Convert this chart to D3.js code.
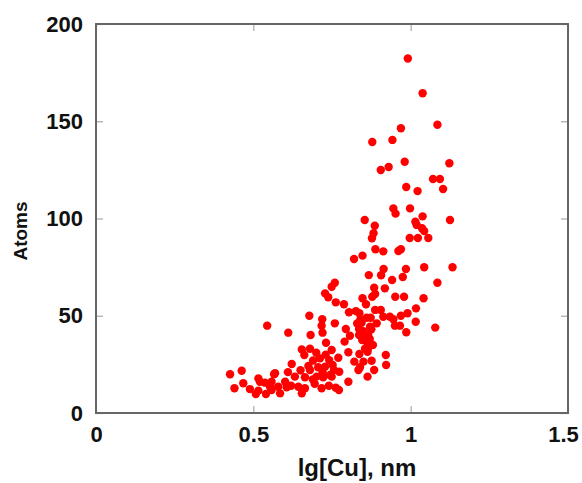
<!DOCTYPE html>
<html>
<head>
<meta charset="utf-8">
<script src="https://cdn.jsdelivr.net/npm/d3@7"></script>
<style>
  body { margin: 0; background: #fff; }
  svg { display: block; font-family: "Liberation Sans", Arial, sans-serif; }
</style>
</head>
<body>
<div class="container"></div>
<script>
const w = 582;
const h = 483;
const margin = { top: 24, left: 96, right: 14, bottom: 70 };

// lg[Cu] (x) and atoms (y)
const xValues = [
  0.991, 1.038, 1.085, 0.969, 0.942, 0.878, 0.981, 1.123, 0.930, 0.905,
  1.071, 1.093, 0.986, 1.103, 1.022, 0.945, 0.952, 0.998, 1.038, 0.854,
  1.125, 1.015, 1.019, 0.886, 1.036, 1.043, 0.882, 0.877, 0.997, 1.023,
  1.056, 0.888, 0.913, 0.961, 0.969, 0.820, 0.847, 0.914, 0.985, 1.043,
  1.133, 0.867, 0.906, 0.975, 0.941, 1.085, 0.759, 0.749, 0.884, 0.918,
  0.847, 0.878, 0.887, 0.951, 0.979, 1.041, 0.762, 0.788, 0.858, 1.017,
  0.804, 0.826, 0.837, 0.887, 0.905, 0.990, 0.969, 0.860, 0.873, 0.913,
  0.934, 0.945, 0.892, 1.016, 0.759, 0.844, 0.871, 0.950, 0.966, 1.078,
  0.794, 0.836, 0.986, 0.807, 0.836, 0.865, 0.846, 0.860, 0.790, 0.865,
  0.749, 0.802, 0.837, 0.921, 0.863, 0.770, 0.821, 0.850, 0.876, 0.922,
  0.752, 0.839, 0.834, 0.884, 0.773, 0.863, 0.749, 0.802, 0.762, 0.772,
  0.728, 0.738, 0.678, 0.719, 0.611, 0.682, 0.720, 0.731, 0.654, 0.662,
  0.712, 0.741, 0.622, 0.675, 0.706, 0.728, 0.756, 0.569, 0.632, 0.664,
  0.689, 0.722, 0.601, 0.643, 0.606, 0.717, 0.654, 0.585, 0.558, 0.680,
  0.544, 0.426, 0.463, 0.566, 0.516, 0.468, 0.440, 0.489, 0.537, 0.558,
  0.516, 0.508, 0.540, 0.579, 0.717, 0.664, 0.701, 0.744, 0.521, 0.553,
  0.850, 0.855, 0.870, 0.840, 0.875, 0.880, 0.855, 0.830, 0.690, 0.700,
  0.730, 0.680, 0.720, 0.695, 0.740, 0.620, 0.610, 0.650
];
const yValues = [
  182.3, 164.4, 148.2, 146.4, 140.4, 139.3, 129.2, 128.4, 126.5, 124.9,
  120.3, 120.3, 116.2, 115.2, 114.1, 105.2, 102.5, 105.2, 101.1, 99.2,
  99.2, 98.3, 96.7, 96.3, 95.0, 93.6, 92.4, 89.8, 90.0, 90.0,
  90.0, 84.2, 83.1, 83.3, 84.2, 79.2, 80.9, 74.0, 74.0, 74.9,
  74.9, 70.9, 70.8, 69.9, 68.4, 67.0, 67.0, 64.9, 64.4, 64.1,
  59.0, 59.8, 61.2, 59.8, 59.8, 59.0, 56.9, 55.9, 55.9, 53.8,
  51.8, 52.4, 51.3, 53.0, 53.0, 51.3, 50.0, 49.0, 49.0, 49.5,
  49.5, 48.2, 46.1, 46.9, 46.1, 46.4, 44.4, 44.9, 44.9, 43.9,
  43.2, 43.2, 41.5, 39.7, 40.1, 40.1, 37.5, 36.7, 36.7, 33.3,
  32.4, 31.2, 30.3, 29.8, 31.5, 28.4, 26.4, 26.4, 26.9, 24.7,
  24.7, 23.5, 22.1, 22.1, 21.2, 18.7, 18.7, 16.1, 13.0, 11.8,
  61.5, 59.5, 50.0, 48.2, 41.3, 40.1, 41.3, 36.1, 32.7, 29.8,
  28.1, 27.2, 25.2, 24.2, 23.5, 23.8, 22.1, 20.4, 18.7, 18.4,
  17.3, 18.4, 16.1, 13.5, 13.2, 12.7, 10.1, 10.1, 11.8, 22.1,
  44.9, 19.9, 21.7, 19.9, 17.8, 15.3, 12.7, 12.3, 15.6, 16.1,
  11.5, 9.8, 9.8, 13.5, 44.9, 12.7, 18.7, 19.5, 16.1, 13.5,
  42.0, 39.0, 38.0, 48.0, 43.0, 35.0, 33.0, 46.0, 27.0, 31.0,
  30.0, 33.0, 21.0, 15.0, 14.0, 14.0, 21.0, 22.0
];
const xTicks = [0, 0.5, 1, 1.5];
const yTicks = [0, 50, 100, 150, 200];

const points = xValues.map((x, i) => ({ x, y: yValues[i] }));

const svg = d3.select('.container')
  .append('svg')
  .attr('width', w)
  .attr('height', h);

const xScale = d3.scaleLinear().domain([0, 1.5]).range([margin.left, w - margin.right]);
const yScale = d3.scaleLinear().domain([0, 200]).range([h - margin.bottom, margin.top]);

const plotW = w - margin.right - margin.left;
const plotH = h - margin.bottom - margin.top;

// ticks point inward on all four sides
const tickLen = 7;
const axes = [
  { axis: d3.axisBottom(xScale).tickValues(xTicks).tickFormat(d3.format('')), tr: `translate(0,${h - margin.bottom})`, labels: true },
  { axis: d3.axisTop(xScale).tickValues(xTicks).tickFormat(''), tr: `translate(0,${margin.top})`, labels: false },
  { axis: d3.axisLeft(yScale).tickValues(yTicks), tr: `translate(${margin.left},0)`, labels: true },
  { axis: d3.axisRight(yScale).tickValues(yTicks).tickFormat(''), tr: `translate(${w - margin.right},0)`, labels: false },
];

axes.forEach(a => {
  const g = svg.append('g')
    .attr('transform', a.tr)
    .call(a.axis.tickSize(-tickLen).tickPadding(a.labels ? 13 : 0));
  g.select('.domain').remove();
  g.selectAll('.tick line').attr('stroke', '#aaa').attr('stroke-width', 1.2);
  g.selectAll('.tick text')
    .attr('fill', '#111')
    .style('font-size', '22px')
    .style('font-weight', 'bold');
});

// last x label sits right at the window edge, nudge it in
svg.selectAll('.tick text').filter(d => d === 1.5).attr('dx', -5);

svg.append('rect')
  .attr('x', margin.left)
  .attr('y', margin.top)
  .attr('width', plotW)
  .attr('height', plotH)
  .attr('fill', 'none')
  .attr('stroke', '#666')
  .attr('stroke-width', 2);

svg.append('g')
  .selectAll('circle')
  .data(points)
  .join('circle')
  .attr('cx', d => xScale(d.x))
  .attr('cy', d => yScale(d.y))
  .attr('r', 4.2)
  .attr('fill', '#ff0000');

svg.append('text')
  .text('lg[Cu], nm')
  .attr('x', 357)
  .attr('y', 476)
  .attr('text-anchor', 'middle')
  .attr('fill', '#111')
  .style('font-size', '24px')
  .style('font-weight', 'bold');

svg.append('text')
  .text('Atoms')
  .attr('transform', 'translate(27,231) rotate(-90)')
  .attr('text-anchor', 'middle')
  .attr('fill', '#111')
  .style('font-size', '19px')
  .style('font-weight', 'bold');
</script>
</body>
</html>
